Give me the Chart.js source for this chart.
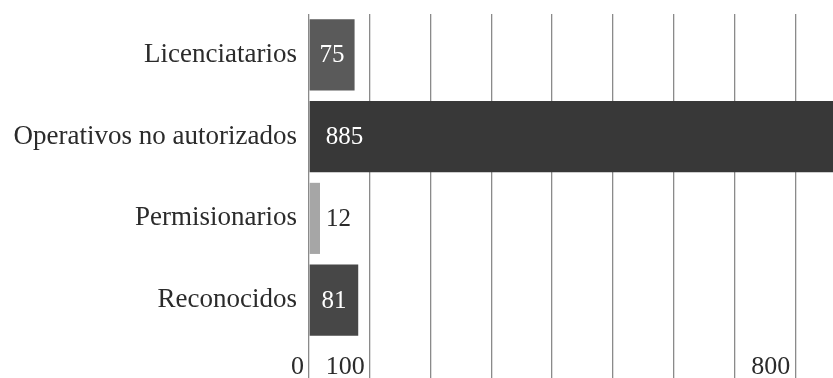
<!DOCTYPE html>
<html>
<head>
<meta charset="utf-8">
<script src="https://cdn.jsdelivr.net/npm/chart.js@4/dist/chart.umd.min.js"></script>
<style>
  html, body { margin: 0; padding: 0; background: #fff; overflow: hidden; }
  #wrap { width: 856px; height: 378px; }
</style>
</head>
<body>
<div id="wrap"><canvas id="chart"></canvas></div>
<script>
const categories = ['Licenciatarios', 'Operativos no autorizados', 'Permisionarios', 'Reconocidos']
const values = [75, 885, 12, 81]
const barColors = ['#5a5a5a', '#383838', '#a6a6a6', '#474747']
const labelColors = ['#ffffff', '#ffffff', '#2b2b2b', '#ffffff']
// only these ticks get a label on the x axis
const shownTicks = [0, 100, 800]

const serif = 'Liberation Serif'

// writes each value on its bar (outside when the bar is too short)
const valueLabels = {
    id: 'valueLabels',
    afterDatasetsDraw(chart) {
        const ctx = chart.ctx
        const meta = chart.getDatasetMeta(0)
        ctx.save()
        ctx.font = '25px "' + serif + '"'
        ctx.textBaseline = 'middle'
        meta.data.forEach((bar, i) => {
            const text = String(values[i])
            const w = bar.x - bar.base
            ctx.fillStyle = labelColors[i]
            if (w < 30) {
                ctx.textAlign = 'left'
                ctx.fillText(text, bar.x + 6, bar.y + 1)
            } else if (w < 120) {
                ctx.textAlign = 'center'
                ctx.fillText(text, bar.base + w / 2, bar.y + 1)
            } else {
                ctx.textAlign = 'left'
                ctx.fillText(text, bar.base + 16, bar.y + 1)
            }
        })
        ctx.restore()
    }
}

const ctx = document.getElementById('chart').getContext('2d')
const chart = new Chart(ctx, {
    type: 'bar',
    data: {
        labels: categories,
        datasets: [{
            data: values,
            backgroundColor: barColors,
            borderWidth: 0,
            categoryPercentage: 1,
            barPercentage: 0.87,
            minBarLength: 11
        }]
    },
    options: {
        indexAxis: 'y',
        responsive: true,
        maintainAspectRatio: false,
        animation: false,
        layout: { padding: { top: 14, right: 0, left: 0, bottom: 0 } },
        plugins: {
            legend: { display: false },
            tooltip: { enabled: false }
        },
        scales: {
            x: {
                min: 0,
                max: 900,
                afterFit: (scale) => { scale.height = 37 },
                border: { display: false },
                grid: {
                    color: '#8a8a8a',
                    lineWidth: 1.3,
                    tickLength: 37,
                    tickColor: '#8a8a8a'
                },
                ticks: {
                    stepSize: 100,
                    align: 'end',
                    labelOffset: -5,
                    padding: -26,
                    color: '#2b2b2b',
                    font: { family: serif, size: 26 },
                    callback: (value) => shownTicks.includes(value) ? String(value) : ''
                }
            },
            y: {
                afterFit: (scale) => {
                    scale.width = 309
                    scale.paddingTop = 0
                    scale.paddingBottom = 0
                },
                border: { display: false },
                grid: { display: false, drawTicks: false },
                ticks: {
                    padding: 12,
                    color: '#2b2b2b',
                    font: { family: serif, size: 27 }
                }
            }
        }
    },
    plugins: [valueLabels]
})
</script>
</body>
</html>
